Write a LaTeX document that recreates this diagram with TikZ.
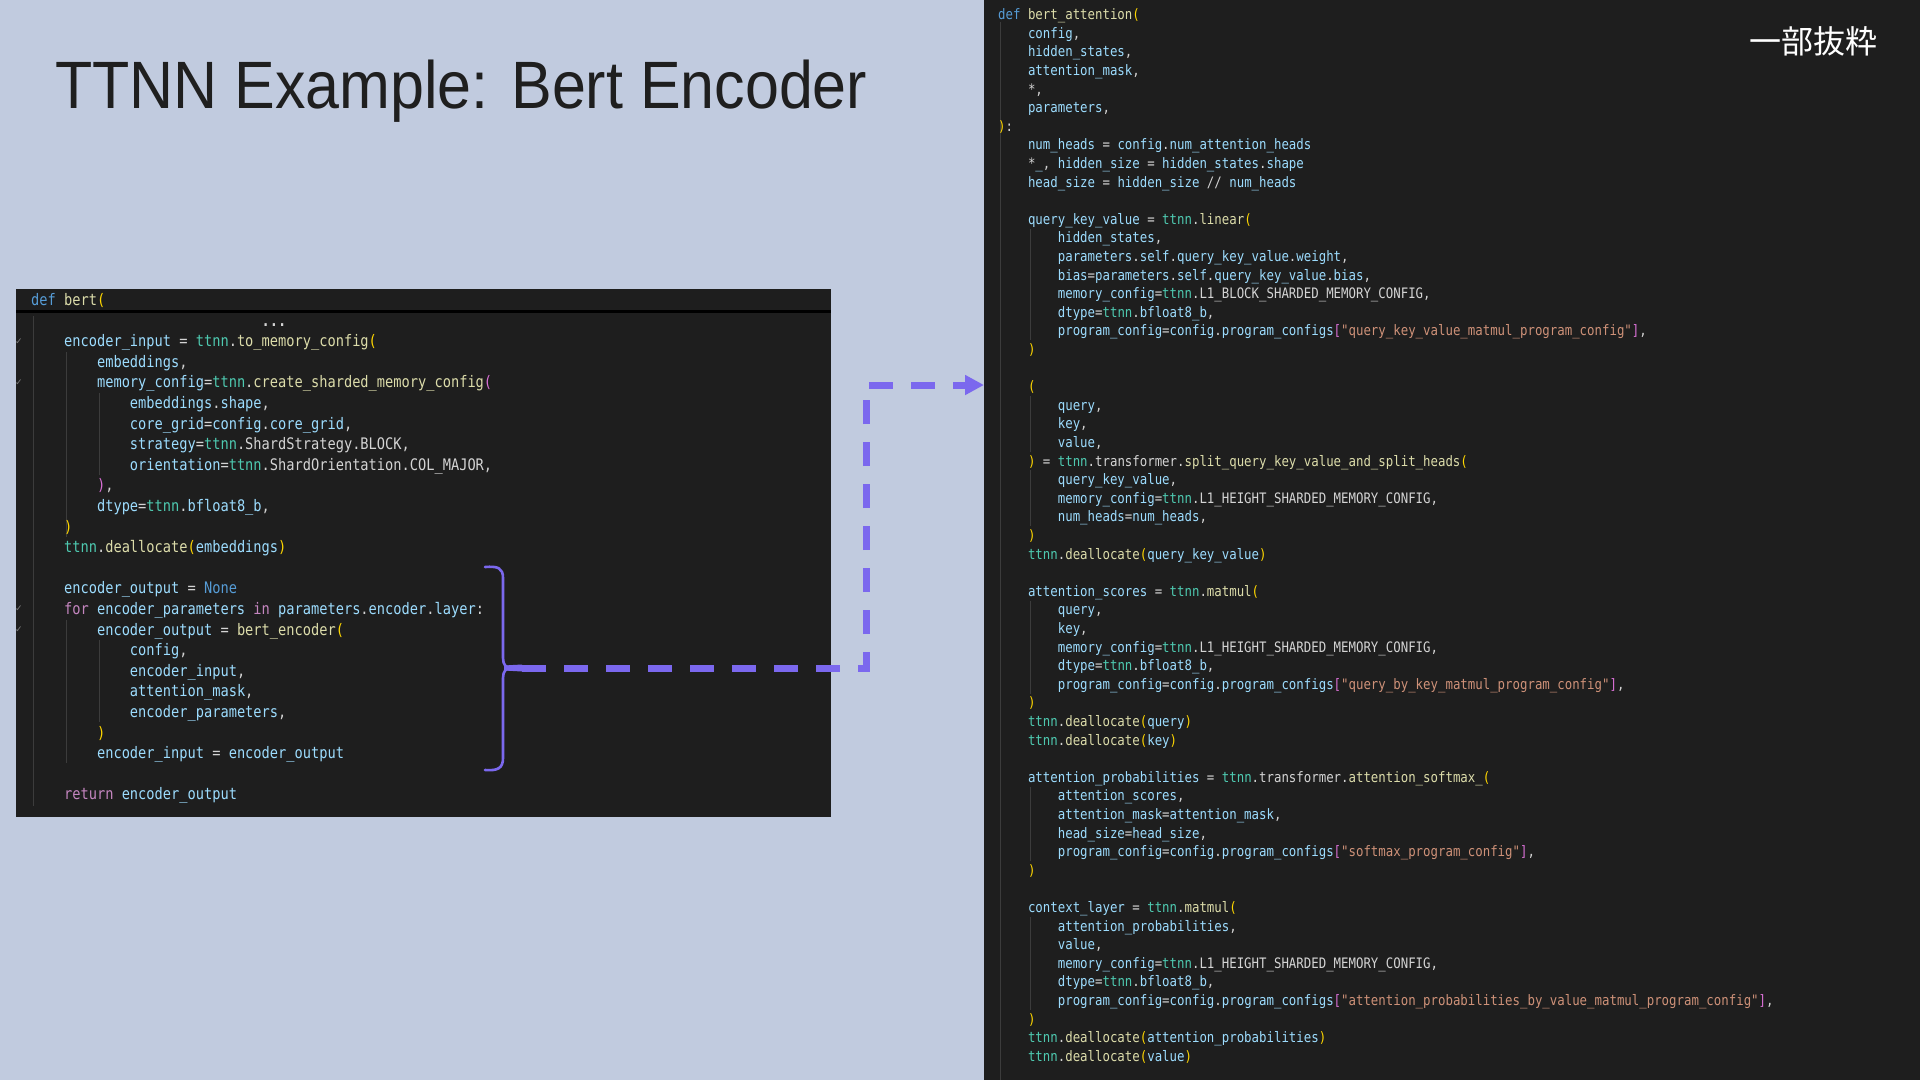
\documentclass[tikz,border=0pt]{standalone}
\usepackage{fontspec}
\usepackage{tikz}
\usetikzlibrary{arrows.meta}

\newfontfamily\codefont[FakeStretch=0.86]{DejaVu Sans Mono}
\newfontfamily\titlefont[FakeStretch=0.91]{Liberation Sans}
\newfontfamily\cjkfont{Noto Sans CJK JP}
\newfontfamily\symfont{DejaVu Sans}

\definecolor{slidebg}{HTML}{C1CBDF}
\definecolor{panelbg}{HTML}{1E1E1E}
\definecolor{titlecol}{HTML}{1F1F1F}
\definecolor{linkcol}{HTML}{7B68EE}
\definecolor{guidegray}{HTML}{3C3C3C}
\definecolor{tickgray}{HTML}{7A7A7A}
\definecolor{codefg}{HTML}{D4D4D4}
\definecolor{varblue}{HTML}{9CDCFE}
\definecolor{fnyellow}{HTML}{DCDCAA}
\definecolor{modteal}{HTML}{4EC9B0}
\definecolor{strorange}{HTML}{CE9178}
\definecolor{kwblue}{HTML}{569CD6}
\definecolor{ctlpink}{HTML}{C586C0}
\definecolor{brgold}{HTML}{FFD700}
\definecolor{brpink}{HTML}{DA70D6}

% syntax colours
\newcommand\cvar[1]{\textcolor{varblue}{#1}}
\newcommand\cfun[1]{\textcolor{fnyellow}{#1}}
\newcommand\cmod[1]{\textcolor{modteal}{#1}}
\newcommand\cstr[1]{\textcolor{strorange}{#1}}
\newcommand\ckey[1]{\textcolor{kwblue}{#1}}
\newcommand\cctl[1]{\textcolor{ctlpink}{#1}}
\newcommand\cbra[1]{\textcolor{brgold}{#1}}
\newcommand\cbrb[1]{\textcolor{brpink}{#1}}
\newcommand\codeind{\phantom{0000}}
\newcommand\bertfont{\codefont\fontsize{15.9pt}{20.6pt}\selectfont\lineskiplimit=-100pt\frenchspacing\raggedright}
\newcommand\attnfont{\codefont\fontsize{14.4pt}{18.6pt}\selectfont\lineskiplimit=-100pt\frenchspacing\raggedright}

\begin{document}
\begin{tikzpicture}[
			x=1pt, y=-1pt,
			panel/.style={fill=panelbg, draw=none, inner sep=0pt, outer sep=0pt, anchor=north west},
			codetext/.style={inner sep=0pt, anchor=base west, text=codefg},
			guide/.style={draw=guidegray, line width=1pt},
			tick/.style={inner sep=0pt, text=tickgray, font=\symfont\fontsize{9pt}{9pt}\selectfont},
			brace/.style={draw=linkcol, line width=2.6pt, line cap=round, line join=round},
			link/.style={draw=linkcol, line width=7pt, dash pattern=on 24pt off 18pt, -{Triangle[length=19pt, width=19pt]}}
			]
			\useasboundingbox (0,0) rectangle (1920,1080);
			\fill[slidebg] (0,0) rectangle (1920,1080);
			
			% Title
			\node[inner sep=0pt, anchor=base west, text=titlecol, font=\titlefont\fontsize{67pt}{80pt}\selectfont] (title) at (55,108) {TTNN Example: Bert Encoder};
			
			% Left panel: bert()
			\node[panel, minimum width=815pt, minimum height=528pt] (bertpanel) at (16,289) {};
			\draw[black, line width=3pt] ([yshift=-22.5pt]bertpanel.north west) -- ([yshift=-22.5pt]bertpanel.north east);
			\draw[guide] (33,316) -- (33,806);
			\foreach \a/\b/\x in {3/11/66, 16/22/66, 5/8/99, 17/20/99}
				\draw[guide] (\x,{290+20.6*\a}) -- (\x,{310+20.6*\b});
			\foreach \k in {2,4,15,16}
				\node[tick] (tick\k) at (19,{300+20.6*\k}) {✓};
			
			\node[codetext] (bertcode) at (31,305.5) {\parbox[t]{790pt}{\bertfont
				\ckey{def} \cfun{bert}\cbra{(}\\
				\codeind\codeind\codeind\codeind\codeind\codeind\codeind\textbf{...}\\
				\codeind\cvar{encoder\_input} = \cmod{ttnn}.\cfun{to\_memory\_config}\cbra{(}\\
				\codeind\codeind\cvar{embeddings},\\
				\codeind\codeind\cvar{memory\_config}=\cmod{ttnn}.\cfun{create\_sharded\_memory\_config}\cbrb{(}\\
				\codeind\codeind\codeind\cvar{embeddings}.\cvar{shape},\\
				\codeind\codeind\codeind\cvar{core\_grid}=\cvar{config}.\cvar{core\_grid},\\
				\codeind\codeind\codeind\cvar{strategy}=\cmod{ttnn}.ShardStrategy.BLOCK,\\
				\codeind\codeind\codeind\cvar{orientation}=\cmod{ttnn}.ShardOrientation.COL\_MAJOR,\\
				\codeind\codeind\cbrb{)},\\
				\codeind\codeind\cvar{dtype}=\cmod{ttnn}.\cvar{bfloat8\_b},\\
				\codeind\cbra{)}\\
				\codeind\cmod{ttnn}.\cfun{deallocate}\cbra{(}\cvar{embeddings}\cbra{)}\\
				\mbox{}\\
				\codeind\cvar{encoder\_output} = \ckey{None}\\
				\codeind\cctl{for} \cvar{encoder\_parameters} \cctl{in} \cvar{parameters}.\cvar{encoder}.\cvar{layer}:\\
				\codeind\codeind\cvar{encoder\_output} = \cfun{bert\_encoder}\cbra{(}\\
				\codeind\codeind\codeind\cvar{config},\\
				\codeind\codeind\codeind\cvar{encoder\_input},\\
				\codeind\codeind\codeind\cvar{attention\_mask},\\
				\codeind\codeind\codeind\cvar{encoder\_parameters},\\
				\codeind\codeind\cbra{)}\\
				\codeind\codeind\cvar{encoder\_input} = \cvar{encoder\_output}\\
				\mbox{}\\
				\codeind\cctl{return} \cvar{encoder\_output}}};
			
			% Right panel: bert_attention()
			\node[panel, minimum width=936pt, minimum height=1080pt] (attnpanel) at (984,0) {};
			\draw[guide] (1000,22) -- (1000,1080);
			\foreach \a/\b in {12/17, 21/23, 25/27, 32/36, 42/45, 49/53}
				\draw[guide] (1030,{5.4+18.6*\a}) -- (1030,{24+18.6*\b});
			
			\node[codetext] (attncode) at (998,19.7) {\parbox[t]{910pt}{\attnfont
				\ckey{def} \cfun{bert\_attention}\cbra{(}\\
				\codeind\cvar{config},\\
				\codeind\cvar{hidden\_states},\\
				\codeind\cvar{attention\_mask},\\
				\codeind*,\\
				\codeind\cvar{parameters},\\
				\cbra{)}:\\
				\codeind\cvar{num\_heads} = \cvar{config}.\cvar{num\_attention\_heads}\\
				\codeind*\cvar{\_}, \cvar{hidden\_size} = \cvar{hidden\_states}.\cvar{shape}\\
				\codeind\cvar{head\_size} = \cvar{hidden\_size} // \cvar{num\_heads}\\
				\mbox{}\\
				\codeind\cvar{query\_key\_value} = \cmod{ttnn}.\cfun{linear}\cbra{(}\\
				\codeind\codeind\cvar{hidden\_states},\\
				\codeind\codeind\cvar{parameters}.\cvar{self}.\cvar{query\_key\_value}.\cvar{weight},\\
				\codeind\codeind\cvar{bias}=\cvar{parameters}.\cvar{self}.\cvar{query\_key\_value}.\cvar{bias},\\
				\codeind\codeind\cvar{memory\_config}=\cmod{ttnn}.L1\_BLOCK\_SHARDED\_MEMORY\_CONFIG,\\
				\codeind\codeind\cvar{dtype}=\cmod{ttnn}.\cvar{bfloat8\_b},\\
				\codeind\codeind\cvar{program\_config}=\cvar{config}.\cvar{program\_configs}\cbrb{[}\cstr{"query\_key\_value\_matmul\_program\_config"}\cbrb{]},\\
				\codeind\cbra{)}\\
				\mbox{}\\
				\codeind\cbra{(}\\
				\codeind\codeind\cvar{query},\\
				\codeind\codeind\cvar{key},\\
				\codeind\codeind\cvar{value},\\
				\codeind\cbra{)} = \cmod{ttnn}.transformer.\cfun{split\_query\_key\_value\_and\_split\_heads}\cbra{(}\\
				\codeind\codeind\cvar{query\_key\_value},\\
				\codeind\codeind\cvar{memory\_config}=\cmod{ttnn}.L1\_HEIGHT\_SHARDED\_MEMORY\_CONFIG,\\
				\codeind\codeind\cvar{num\_heads}=\cvar{num\_heads},\\
				\codeind\cbra{)}\\
				\codeind\cmod{ttnn}.\cfun{deallocate}\cbra{(}\cvar{query\_key\_value}\cbra{)}\\
				\mbox{}\\
				\codeind\cvar{attention\_scores} = \cmod{ttnn}.\cfun{matmul}\cbra{(}\\
				\codeind\codeind\cvar{query},\\
				\codeind\codeind\cvar{key},\\
				\codeind\codeind\cvar{memory\_config}=\cmod{ttnn}.L1\_HEIGHT\_SHARDED\_MEMORY\_CONFIG,\\
				\codeind\codeind\cvar{dtype}=\cmod{ttnn}.\cvar{bfloat8\_b},\\
				\codeind\codeind\cvar{program\_config}=\cvar{config}.\cvar{program\_configs}\cbrb{[}\cstr{"query\_by\_key\_matmul\_program\_config"}\cbrb{]},\\
				\codeind\cbra{)}\\
				\codeind\cmod{ttnn}.\cfun{deallocate}\cbra{(}\cvar{query}\cbra{)}\\
				\codeind\cmod{ttnn}.\cfun{deallocate}\cbra{(}\cvar{key}\cbra{)}\\
				\mbox{}\\
				\codeind\cvar{attention\_probabilities} = \cmod{ttnn}.transformer.\cfun{attention\_softmax\_}\cbra{(}\\
				\codeind\codeind\cvar{attention\_scores},\\
				\codeind\codeind\cvar{attention\_mask}=\cvar{attention\_mask},\\
				\codeind\codeind\cvar{head\_size}=\cvar{head\_size},\\
				\codeind\codeind\cvar{program\_config}=\cvar{config}.\cvar{program\_configs}\cbrb{[}\cstr{"softmax\_program\_config"}\cbrb{]},\\
				\codeind\cbra{)}\\
				\mbox{}\\
				\codeind\cvar{context\_layer} = \cmod{ttnn}.\cfun{matmul}\cbra{(}\\
				\codeind\codeind\cvar{attention\_probabilities},\\
				\codeind\codeind\cvar{value},\\
				\codeind\codeind\cvar{memory\_config}=\cmod{ttnn}.L1\_HEIGHT\_SHARDED\_MEMORY\_CONFIG,\\
				\codeind\codeind\cvar{dtype}=\cmod{ttnn}.\cvar{bfloat8\_b},\\
				\codeind\codeind\cvar{program\_config}=\cvar{config}.\cvar{program\_configs}\cbrb{[}\cstr{"attention\_probabilities\_by\_value\_matmul\_program\_config"}\cbrb{]},\\
				\codeind\cbra{)}\\
				\codeind\cmod{ttnn}.\cfun{deallocate}\cbra{(}\cvar{attention\_probabilities}\cbra{)}\\
				\codeind\cmod{ttnn}.\cfun{deallocate}\cbra{(}\cvar{value}\cbra{)}}};
			
			\node[inner sep=0pt, text=white, font=\cjkfont\fontsize{32pt}{32pt}\selectfont] (excerpt) at (1813,41) {一部抜粋};
			
			% Brace round the loop and dashed link to bert_attention()
			\draw[brace] (485,567) .. controls (498,566) and (503,568) .. (503,578) -- (503,658)
				.. controls (503,665) and (506,668) .. (512,668)
				.. controls (506,668) and (503,671) .. (503,678) -- (503,758)
				.. controls (503,768) and (498,771) .. (485,770);
			\fill[linkcol] (504,665.5) -- (522,664.5) -- (522,671.5) -- (504,670.5) -- cycle;
			
			\coordinate (bracetip) at (522,668);
			\coordinate (bend) at (866,385);
			\draw[link] (bracetip) -| (bend) -- (bend -| attnpanel.west);
		\end{tikzpicture}
\end{document}
